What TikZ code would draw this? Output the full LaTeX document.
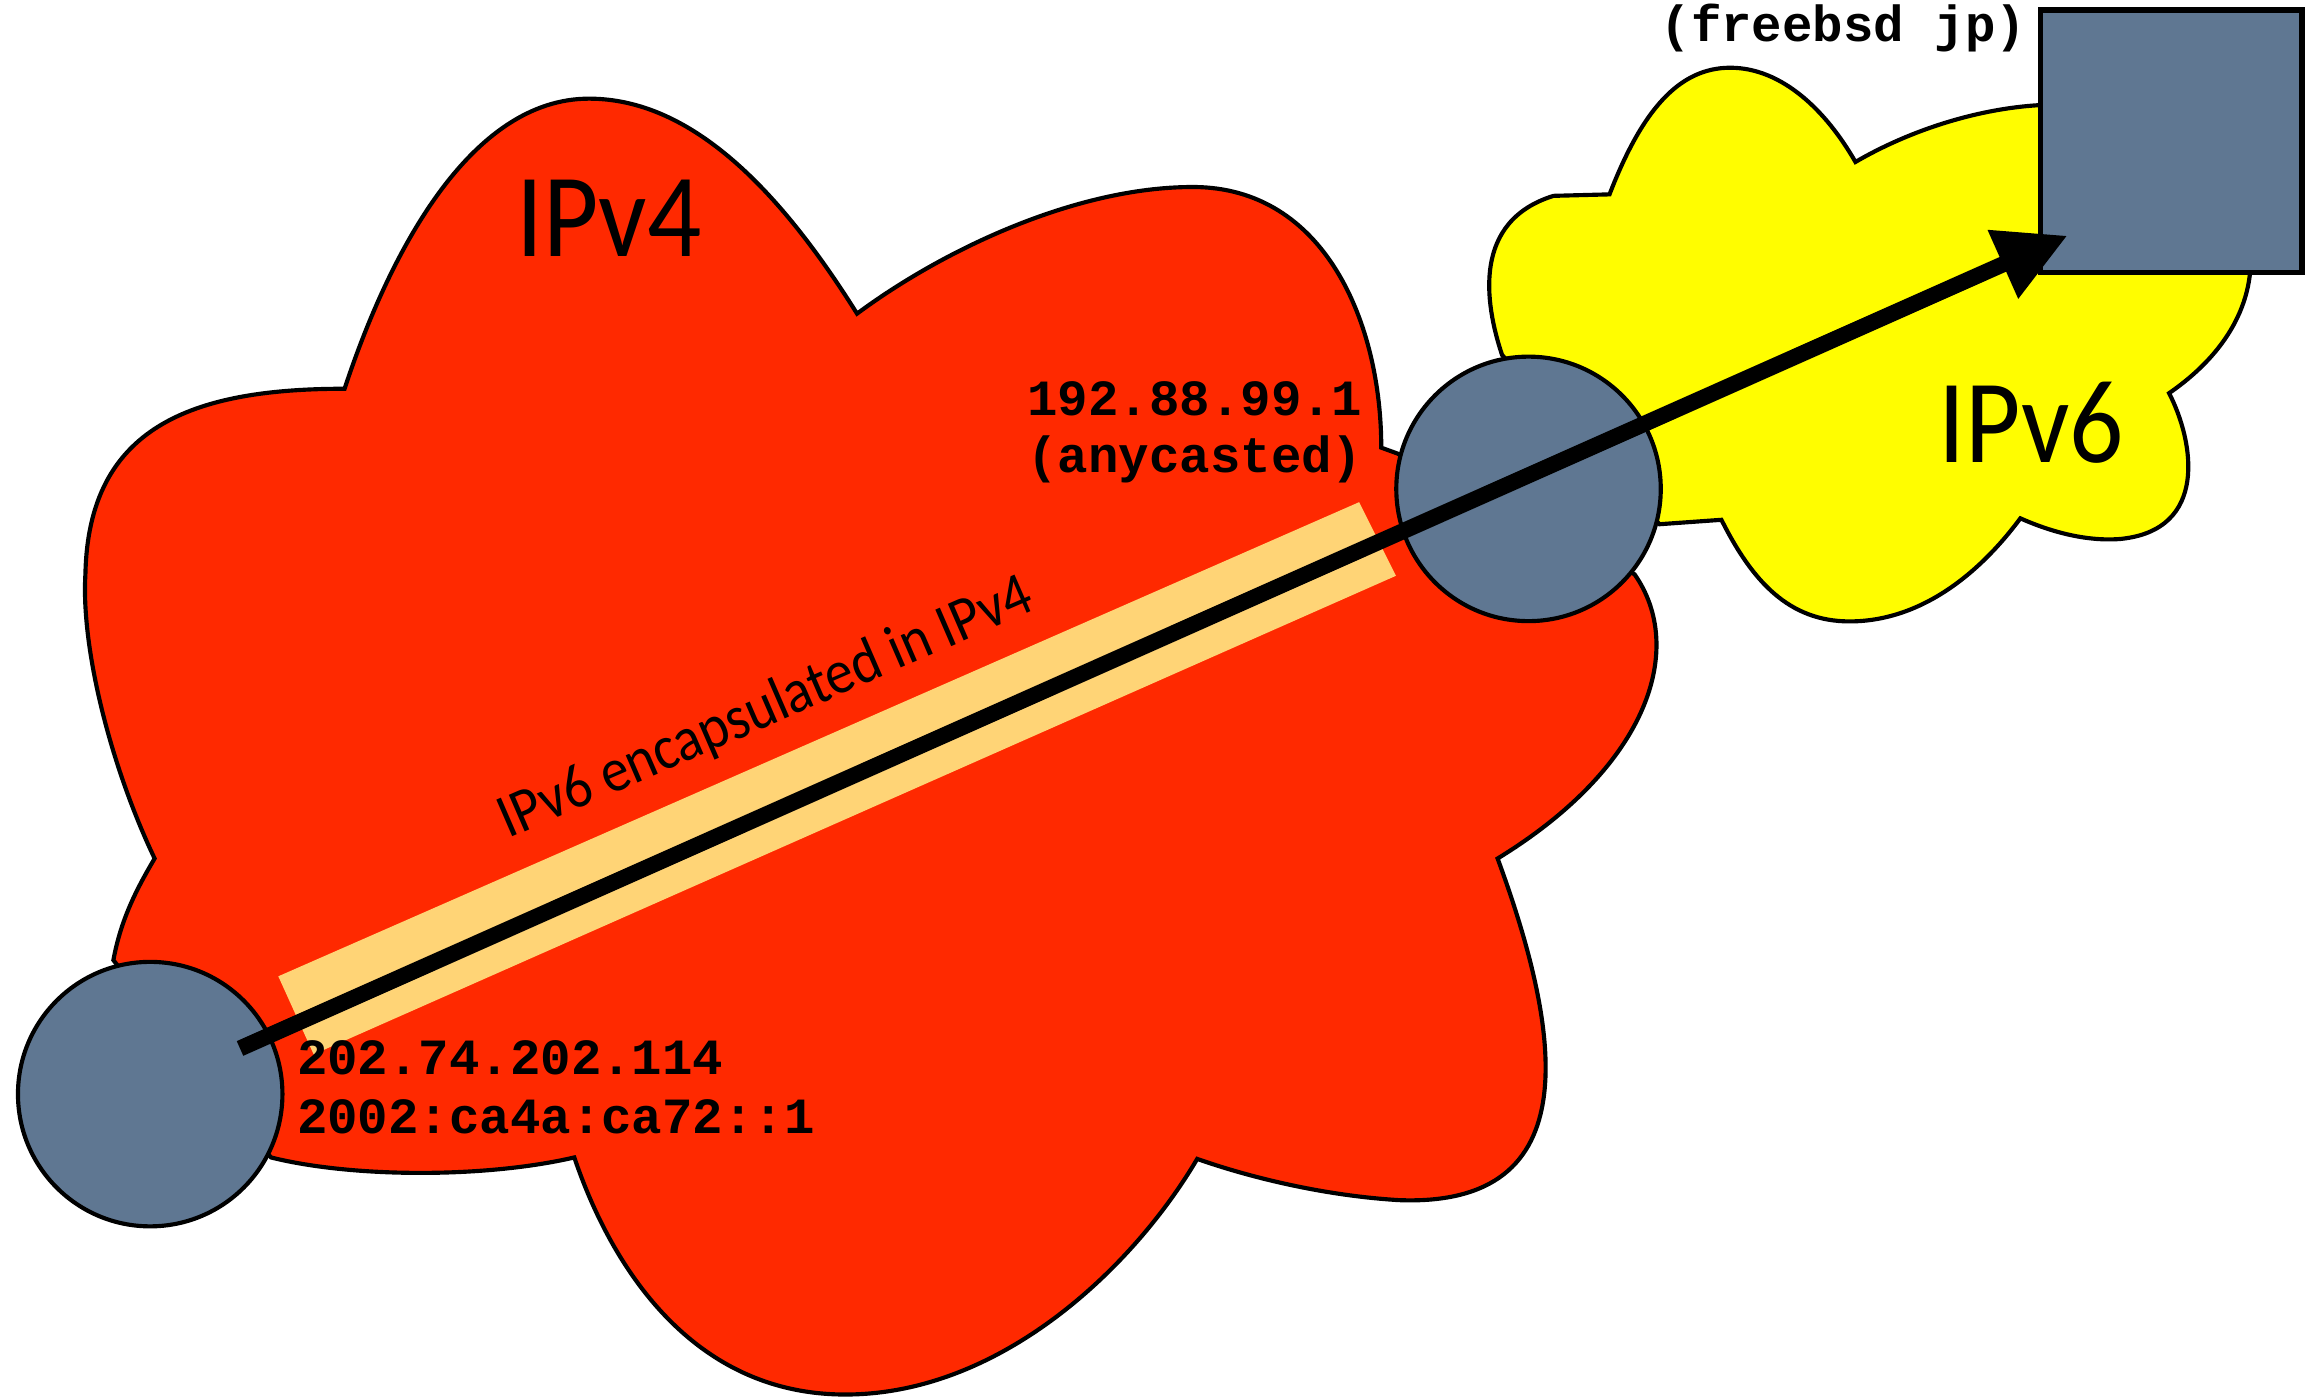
\documentclass[tikz,border=0pt]{standalone}
\usepackage{fontspec}
\usetikzlibrary{arrows.meta}
\newfontfamily\gillfont[FakeStretch=0.9]{Carlito}
\newfontfamily\courfont{Liberation Mono}
\definecolor{ipvfour}{RGB}{255,41,0}
\definecolor{ipvsix}{RGB}{255,253,0}
\definecolor{tunnelband}{RGB}{255,212,118}
\definecolor{hostblue}{RGB}{95,119,146}
\begin{document}
\begin{tikzpicture}[x=0.01cm, y=-0.01cm,
  cloudline/.style={draw=black, line width=0.8pt, line join=miter},
  hostdisc/.style={circle, draw=black, line width=0.8pt, fill=hostblue, minimum size=1.795cm, inner sep=0pt},
  serverbox/.style={rectangle, draw=black, line width=1.1pt, fill=hostblue, minimum width=1.775cm, minimum height=1.78cm, inner sep=0pt},
  netlabel/.style={font=\gillfont\fontsize{23}{27}\selectfont, anchor=base west, inner sep=0pt},
  tunnellabel/.style={font=\gillfont\fontsize{12}{14}\selectfont, anchor=base west, inner sep=0pt, rotate=23.5},
  addr/.style={font=\courfont\bfseries\fontsize{9.8}{11.4}\selectfont, anchor=base west, inner sep=0pt},
  tunnelarrow/.style={line width=3.1pt, -{Triangle[length=4.8mm, width=4.8mm]}},
]
\useasboundingbox (0,0) rectangle (1568,949);

% IPv4 cloud
\path[cloudline, fill=ipvfour]
  (234,264) .. controls (265,170) and (320,67) .. (400,67)
            .. controls (470,67) and (530,130) .. (582,213)
            .. controls (640,170) and (730,127) .. (810,127)
            .. controls (900,127) and (938,220) .. (938,304)
  -- (949,308) -- (1110,390)
            .. controls (1145,440) and (1120,520) .. (1017,583)
            .. controls (1060,700) and (1080,820) .. (950,815)
            .. controls (900,812) and (850,800) .. (813,787)
            .. controls (770,860) and (680,947) .. (574,947)
            .. controls (470,947) and (415,860) .. (390,786)
            .. controls (330,800) and (240,800) .. (184,786)
  -- (77,652)
            .. controls (82,625) and (92,605) .. (105,583)
            .. controls (75,520) and (55,440) .. (58,390)
            .. controls (60,290) and (130,264) .. (234,264)
  -- cycle;

% IPv6 cloud
\path[cloudline, fill=ipvsix]
  (1093,132) .. controls (1115,75) and (1140,46) .. (1175,46)
             .. controls (1210,46) and (1240,75) .. (1260,110)
             .. controls (1320,75) and (1400,60) .. (1450,80)
             .. controls (1525,100) and (1570,200) .. (1473,267)
             .. controls (1490,300) and (1500,360) .. (1440,366)
             .. controls (1415,368) and (1390,360) .. (1372,352)
             .. controls (1340,395) and (1300,422) .. (1256,422)
             .. controls (1215,422) and (1190,395) .. (1169,353)
  -- (1127,356) -- (1020,241)
             .. controls (1008,205) and (1000,150) .. (1055,133)
  -- cycle;

% tunnel band
\fill[tunnelband] (189,663) -- (923,341) -- (948,391) -- (213,716) -- cycle;

% labels
\node[netlabel] (ipv4label) at (350,174) {IPv4};
\node[netlabel] (ipv6label) at (1316,314) {IPv6};
\node[tunnellabel] (tunnellabel) at (345,570) {IPv6 encapsulated in IPv4};
\node[addr] (relayaddr) at (697,282) {192.88.99.1};
\node[addr] (relaynote) at (697,321) {(anycasted)};
\node[addr] (hostaddr4) at (201,730) {202.74.202.114};
\node[addr] (hostaddr6) at (201,770) {2002:ca4a:ca72::1};
\node[addr] (servername) at (1127,28) {(freebsd jp)};

% hosts
\node[hostdisc] (host) at (102,743) {};
\node[hostdisc] (relay) at (1038,332) {};
\node[serverbox] (server) at (1474.5,96) {};

% tunnel path
\coordinate (tunnelstart) at (163,712);
\coordinate (tunnelend) at (1404,160);
\draw[tunnelarrow] (tunnelstart) -- (tunnelend);
\end{tikzpicture}
\end{document}
